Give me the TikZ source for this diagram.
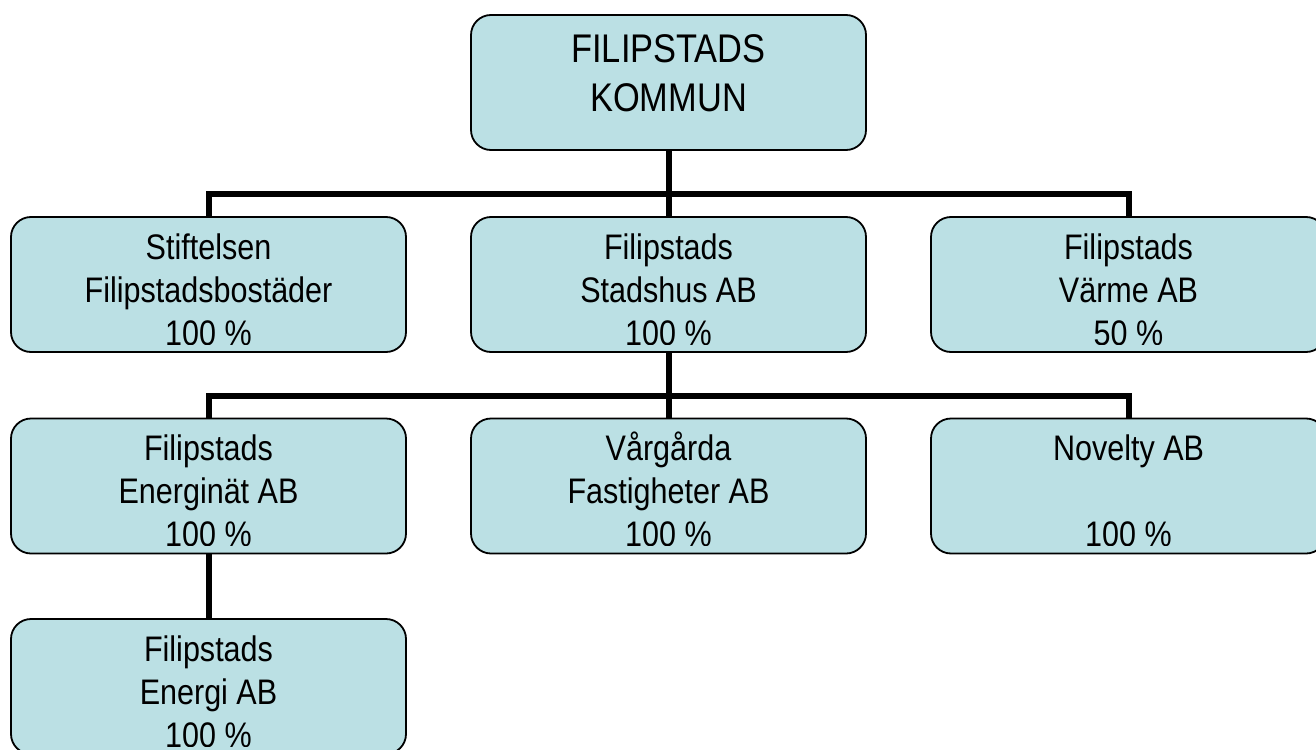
\documentclass[tikz,border=0pt]{standalone}
\usepackage{fontspec}
\setmainfont{Liberation Sans}[FakeStretch=0.86]
\usetikzlibrary{calc, positioning}

\definecolor{unitfill}{RGB}{187,224,228}
\newcommand{\unitfont}{\fontsize{35.5pt}{43pt}\selectfont}
\newcommand{\headfont}{\fontsize{40pt}{49pt}\selectfont}

\begin{document}
\begin{tikzpicture}[x=1pt, y=-1pt,
		boxtext/.style={path picture={
				\clip ([yshift=8pt]path picture bounding box.south west) rectangle (path picture bounding box.north east);
				\node[anchor=north, align=center, inner sep=0pt, font=\unitfont] at ([yshift=-1.9pt]path picture bounding box.north) {\strut #1};}},
		headtext/.style={path picture={
				\node[anchor=north, align=center, inner sep=0pt, font=\headfont] at ([yshift=13.5pt]path picture bounding box.north) {\strut #1};}}]
				\tikzstyle{unit} = [draw=black, line width=1.8pt, fill=unitfill, rounded corners=20pt, minimum width=395pt, minimum height=135pt, inner sep=0pt]
				\tikzstyle{bus} = [line width=6pt, line join=miter]
				
				\clip (0, 0) rectangle (1316, 749);
				
				\node[unit, headtext={FILIPSTADS\\KOMMUN}] 	at (668.5, 82.5) 	(head) 	{};
				
				\node[unit, boxtext={Stiftelsen\\Filipstadsbostäder\\100 \%}] 	at (208.5, 284.5) 	(stift) 	{};
				\node[unit, boxtext={Filipstads\\Stadshus AB\\100 \%}] 	at (668.5, 284.5) 	(stad) 	{};
				\node[unit, boxtext={Filipstads\\Värme AB\\50 \%}] 	at (1128.5, 284.5) 	(varme) 	{};
				
				\node[unit, boxtext={Filipstads\\Energinät AB\\100 \%}] 	at (208.5, 486) 	(natab) 	{};
				\node[unit, boxtext={Vårgårda\\Fastigheter AB\\100 \%}] 	at (668.5, 486) 	(vargarda) 	{};
				\node[unit, boxtext={Novelty AB\\ \\100 \%}] 	at (1128.5, 486) 	(novelty) 	{};
				
				\node[unit, boxtext={Filipstads\\Energi AB\\100 \%}] 	at (208.5, 686.5) 	(energi) 	{};
				
				\draw[bus] (head.south) -- ++(0, 43.5) -| (stift.north);
				\draw[bus] (head.south) -- (stad.north);
				\draw[bus] (head.south) -- ++(0, 43.5) -| (varme.north);
				
				\draw[bus] (stad.south) -- ++(0, 43) -| (natab.north);
				\draw[bus] (stad.south) -- (vargarda.north);
				\draw[bus] (stad.south) -- ++(0, 43) -| (novelty.north);
				
				\draw[bus] (natab.south) -- (energi.north);
\end{tikzpicture}
\end{document}
